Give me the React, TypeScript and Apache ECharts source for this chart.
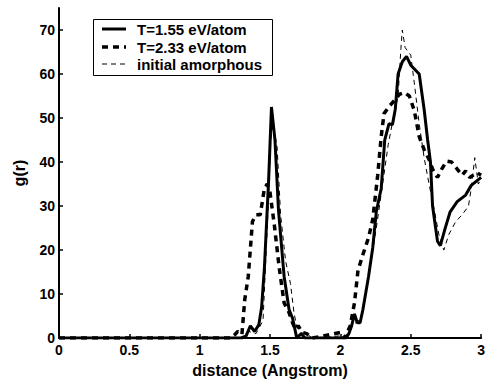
import React, { useEffect, useRef } from "react";
import * as echarts from "echarts";

// T=1.55 eV/atom (solid)
const solidX = [0, 1.30, 1.33, 1.36, 1.39, 1.42, 1.44, 1.46, 1.49, 1.51, 1.535, 1.56, 1.60, 1.635, 1.66, 1.69, 1.72, 1.75, 2.04, 2.06, 2.08, 2.10, 2.12, 2.14, 2.16, 2.20, 2.23, 2.255, 2.29, 2.315, 2.345, 2.37, 2.39, 2.41, 2.44, 2.47, 2.50, 2.56, 2.595, 2.62, 2.64, 2.655, 2.69, 2.71, 2.745, 2.78, 2.83, 2.89, 2.93, 3.0];
const solidY = [0, 0, 0.5, 2.8, 1.5, 3, 7, 16, 36, 52.5, 45, 29, 14, 6.5, 4.5, 0, 1, 0, 0, 1, 2.8, 5.5, 3.5, 3.5, 6.5, 14, 20.6, 28.7, 34, 45, 48.7, 48.5, 52, 60, 62.8, 64, 62, 60, 52, 45, 40, 30, 22, 21, 25, 28.7, 31, 32.5, 34.7, 36.5];

// T=2.33 eV/atom (thick dashed)
const hotX = [0, 1.22, 1.25, 1.27, 1.30, 1.32, 1.345, 1.375, 1.40, 1.43, 1.46, 1.48, 1.50, 1.53, 1.565, 1.60, 1.635, 1.66, 1.68, 1.70, 1.73, 1.76, 1.80, 2.0, 2.03, 2.07, 2.10, 2.125, 2.16, 2.20, 2.23, 2.265, 2.29, 2.31, 2.35, 2.385, 2.42, 2.455, 2.49, 2.525, 2.56, 2.595, 2.63, 2.655, 2.69, 2.72, 2.755, 2.79, 2.83, 2.865, 2.89, 2.92, 2.97, 3.0];
const hotY = [0, 0, 0.8, 1.5, 0.8, 8.7, 14, 26.5, 28, 28, 34, 35, 33, 25.8, 16, 8, 5.8, 3.5, 2, 2.8, 1.3, 1, 0, 1.3, 0, 2.8, 8, 15.4, 19, 22.8, 27, 37, 45.8, 51, 52.8, 54, 55.4, 55.8, 55, 51.7, 45.8, 42.8, 40.6, 38.4, 36.5, 38.4, 40.2, 40, 38.4, 37, 38, 36.5, 37.6, 37];

// initial amorphous (thin dashed)
const initX = [0, 1.28, 1.31, 1.35, 1.40, 1.45, 1.48, 1.505, 1.52, 1.55, 1.575, 1.61, 1.645, 1.67, 1.69, 1.72, 1.76, 1.80, 2.04, 2.09, 2.13, 2.16, 2.21, 2.255, 2.30, 2.34, 2.37, 2.41, 2.43, 2.44, 2.46, 2.50, 2.525, 2.56, 2.595, 2.63, 2.665, 2.70, 2.735, 2.77, 2.82, 2.865, 2.91, 2.93, 2.955, 2.98, 3.0];
const initY = [0, 0, 0.5, 1.5, 1, 4, 25, 45, 48.5, 43.5, 28, 17.6, 12.4, 5.8, 2.5, 1.2, 1, 0, 0.6, 3, 4, 6, 16, 25, 35, 44, 49, 55, 65.8, 70, 66, 64.3, 58, 48.7, 41, 35, 29.5, 23.5, 20, 23.5, 26.5, 28, 30, 34, 41, 35, 36];

const legendLabels = ["T=1.55 eV/atom", "T=2.33 eV/atom", "initial amorphous"];
const xTickLabels = ["0", "0.5", "1", "1.5", "2", "2.5", "3"];

const zip = (xs: number[], ys: number[]) => xs.map((x, i) => [x, ys[i]]);

const FONT = "Liberation Sans";

export default function App() {
  const ref = useRef<HTMLDivElement>(null);
  useEffect(() => {
    const chart = echarts.init(ref.current!, null, { renderer: "svg" });
    const legendRows = [29, 47, 64];
    const legendStyles = [
      { lineWidth: 3, lineDash: null as any },
      { lineWidth: 3.5, lineDash: [6, 5] },
      { lineWidth: 1, lineDash: [5, 4] },
    ];
    chart.setOption({
      animation: false,
      backgroundColor: "#ffffff",
      grid: { left: 59, right: 2, top: 8, bottom: 37, containLabel: false },
      xAxis: {
        type: "value",
        min: 0,
        max: 3,
        interval: 0.5,
        name: "distance (Angstrom)",
        nameLocation: "middle",
        nameGap: 19,
        nameTextStyle: { fontFamily: FONT, fontWeight: "bold", fontSize: 16, color: "#000" },
        axisLine: { show: true, lineStyle: { color: "#000", width: 2 } },
        axisTick: { show: true, inside: true, length: 4, lineStyle: { color: "#000", width: 1.5 } },
        axisLabel: {
          fontFamily: FONT,
          fontWeight: "bold",
          fontSize: 14,
          color: "#000",
          margin: 5,
          formatter: (v: number) => xTickLabels[Math.round(v * 2)] ?? String(v),
        },
        splitLine: { show: false },
      },
      yAxis: {
        type: "value",
        min: 0,
        max: 75,
        interval: 10,
        name: "g(r)",
        nameLocation: "middle",
        nameGap: 32,
        nameRotate: 90,
        nameTextStyle: { fontFamily: FONT, fontWeight: "bold", fontSize: 16, color: "#000" },
        axisLine: { show: true, lineStyle: { color: "#000", width: 2 } },
        axisTick: { show: true, inside: true, length: 4, lineStyle: { color: "#000", width: 1.5 } },
        axisLabel: {
          fontFamily: FONT,
          fontWeight: "bold",
          fontSize: 14,
          color: "#000",
          margin: 4,
          showMaxLabel: false,
        },
        splitLine: { show: false },
      },
      series: [
        {
          name: legendLabels[0],
          type: "line",
          data: zip(solidX, solidY),
          symbol: "none",
          lineStyle: { color: "#000", width: 3 },
          z: 3,
        },
        {
          name: legendLabels[1],
          type: "line",
          data: zip(hotX, hotY),
          symbol: "none",
          lineStyle: { color: "#000", width: 3.5, type: [6, 5] },
          z: 2,
        },
        {
          name: legendLabels[2],
          type: "line",
          data: zip(initX, initY),
          symbol: "none",
          lineStyle: { color: "#000", width: 1, type: [5, 4] },
          z: 1,
        },
      ],
      graphic: [
        {
          type: "rect",
          shape: { x: 93.5, y: 19.5, width: 179, height: 56 },
          style: { fill: "#fff", stroke: "#000", lineWidth: 1 },
          z: 10,
        },
        ...legendRows.map((y, i) => ({
          type: "line",
          shape: { x1: 102, y1: y, x2: 126, y2: y },
          style: { stroke: "#000", lineWidth: legendStyles[i].lineWidth, lineDash: legendStyles[i].lineDash },
          z: 11,
        })),
        ...legendRows.map((y, i) => ({
          type: "text",
          x: 137,
          y: y,
          style: {
            text: legendLabels[i],
            fontFamily: FONT,
            fontWeight: "bold",
            fontSize: 15,
            fill: "#000",
            textVerticalAlign: "middle",
            verticalAlign: "middle",
          },
          z: 11,
        })),
      ],
    });
    return () => chart.dispose();
  }, []);
  return <div ref={ref} style={{ width: 488, height: 383, position: "absolute", left: 0, top: 0 }} />;
}
